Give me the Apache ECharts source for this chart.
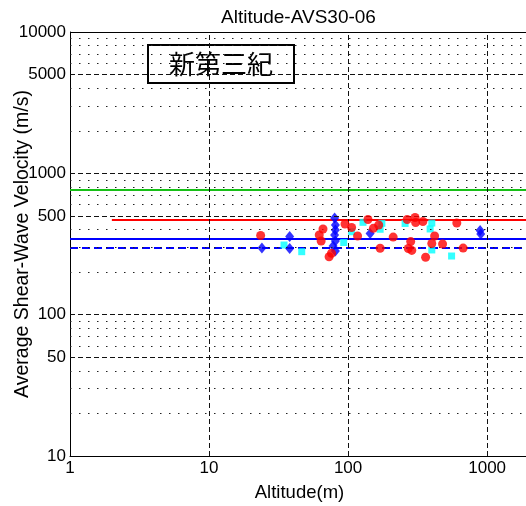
<!DOCTYPE html>
<html><head><meta charset="utf-8">
<script src="https://cdn.jsdelivr.net/npm/echarts@6/dist/echarts.min.js"></script>
<style>html,body{margin:0;padding:0;background:#fff}#c{width:526px;height:506px}</style>
</head><body><div id="c"></div>
<script>
// ---- data ----
const redX = [23.5, 66, 62, 64, 76, 73, 95, 106, 117, 139, 152, 166, 170, 211, 266, 303, 306, 345, 419, 400, 282, 271, 287, 361, 478, 605, 672];
const redY = [363, 404, 366, 332, 272, 257, 438, 414, 360, 471, 408, 431, 295, 354, 471, 487, 449, 456, 360, 319, 329, 294, 285, 255, 316, 445, 296];
const blueX = [24, 38, 38, 80, 81, 81, 80, 81, 78, 81, 144, 890, 900];
const blueY = [296, 357, 294, 483, 431, 397, 366, 332, 306, 282, 375, 394, 372];
const cyanX = [34.6, 46.4, 93, 106, 128, 170, 175, 257, 389, 400, 400, 555];
const cyanY = [311, 279, 324, 386, 450, 402, 443, 442, 404, 445, 287, 260];
const greenLevel = 763;
const redLevel = 468;
const blueLevel = 343;
const blueDashLevel = 296;
const xRange = [1, 2000];
const redLineStart = 2;
const yRange = [10, 10000];
const xTickVals = [1, 10, 100, 1000];
const yTickVals = [10, 50, 100, 500, 1000, 5000, 10000];
const xMajorGrid = [10, 100, 1000];
const yMajorGrid = [50, 100, 500, 1000, 5000];
const yMinorGrid = [20, 30, 40, 60, 70, 80, 90, 200, 300, 400, 600, 700, 800, 900, 2000, 3000, 4000, 6000, 7000, 8000, 9000];
const titleText = 'Altitude-AVS30-06';
const xName = 'Altitude(m)';
const yName = 'Average Shear-Wave Velocity (m/s)';
const boxText = '新第三紀';

const FONT = "'Liberation Sans', Arial, Helvetica, sans-serif";
const zip = (a, b) => a.map((v, i) => [v, b[i]]);
const dashed = { type: [5, 3], color: '#111', width: 1 };
const dotted = { type: [1.5, 7.5], color: '#222', width: 1 };
const plain = v => String(Math.round(v));

const gridMarks = []
  .concat(yMinorGrid.map(v => ({ yAxis: v, lineStyle: dotted })))
  .concat(yMajorGrid.map(v => ({ yAxis: v, lineStyle: dashed })))
  .concat(xMajorGrid.map(v => ({ xAxis: v, lineStyle: dashed })))
  .concat([{ yAxis: yRange[1], lineStyle: { type: 'solid', color: '#000', width: 1 } }]);

const chart = echarts.init(document.getElementById('c'), null, { renderer: 'canvas' });
chart.setOption({
  animation: false,
  backgroundColor: '#fff',
  title: {
    text: titleText, left: 216, top: 3,
    textStyle: { fontFamily: FONT, fontSize: 19, fontWeight: 'normal', color: '#000' }
  },
  grid: { left: 70, top: 32, width: 459, height: 424, containLabel: false, outerBoundsMode: 'none' },
  xAxis: {
    type: 'log', logBase: 10, min: xRange[0], max: xRange[1],
    name: xName, nameLocation: 'middle', nameGap: 27, nameMoveOverlap: false,
    nameTextStyle: { fontFamily: FONT, fontSize: 18.5, color: '#000' },
    axisLine: { show: true, lineStyle: { color: '#000', width: 1 } },
    axisTick: { show: true, inside: true, length: 5, customValues: xTickVals, lineStyle: { color: '#000' } },
    axisLabel: { customValues: xTickVals, formatter: plain, fontFamily: FONT, fontSize: 17, color: '#000', margin: 4 },
    splitLine: { show: false }, minorSplitLine: { show: false }
  },
  yAxis: {
    type: 'log', logBase: 10, min: yRange[0], max: yRange[1],
    name: yName, nameLocation: 'middle', nameGap: 37, nameMoveOverlap: false,
    nameTextStyle: { fontFamily: FONT, fontSize: 19.5, color: '#000' },
    axisLine: { show: true, lineStyle: { color: '#000', width: 1 } },
    axisTick: { show: true, inside: true, length: 5, customValues: yTickVals, lineStyle: { color: '#000' } },
    axisLabel: { customValues: yTickVals, formatter: plain, fontFamily: FONT, fontSize: 17, color: '#000', margin: 4 },
    splitLine: { show: false }, minorSplitLine: { show: false }
  },
  graphic: [{
    type: 'group', left: 147, top: 44, z: 100,
    children: [
      { type: 'rect', shape: { x: 0, y: 0, width: 146, height: 38 }, style: { fill: '#fff', stroke: '#000', lineWidth: 2 } },
      { type: 'text', x: 73, y: 19, style: { text: boxText, font: "26px 'Noto Sans CJK JP'", fill: '#000', align: 'center', verticalAlign: 'middle' } }
    ]
  }],
  series: [
    { type: 'line', data: [], z: 1, silent: true,
      markLine: { silent: true, symbol: ['none', 'none'], label: { show: false }, emphasis: { disabled: true }, data: gridMarks } },
    { type: 'line', data: [[xRange[0], greenLevel], [xRange[1], greenLevel]], showSymbol: false, z: 2, lineStyle: { color: '#17c017', width: 2 } },
    { type: 'line', data: [[redLineStart, redLevel], [xRange[1], redLevel]], showSymbol: false, z: 2, lineStyle: { color: '#ff0000', width: 2 } },
    { type: 'line', data: [[xRange[0], blueLevel], [xRange[1], blueLevel]], showSymbol: false, z: 2, lineStyle: { color: '#0000ff', width: 2 } },
    { type: 'line', data: [[xRange[0], blueDashLevel], [xRange[1], blueDashLevel]], showSymbol: false, z: 2, lineStyle: { color: '#0000ff', width: 2, type: [8, 4] } },
    { type: 'scatter', data: zip(cyanX, cyanY), symbol: 'rect', symbolSize: 7, z: 3, itemStyle: { color: '#00ffff' } },
    { type: 'scatter', data: zip(blueX, blueY), symbol: 'diamond', symbolSize: [9, 11], z: 4, itemStyle: { color: '#0000ff' } },
    { type: 'scatter', data: zip(redX, redY), symbol: 'circle', symbolSize: 9, z: 5, itemStyle: { color: '#ff0000' } }
  ]
});
</script>
</body></html>
